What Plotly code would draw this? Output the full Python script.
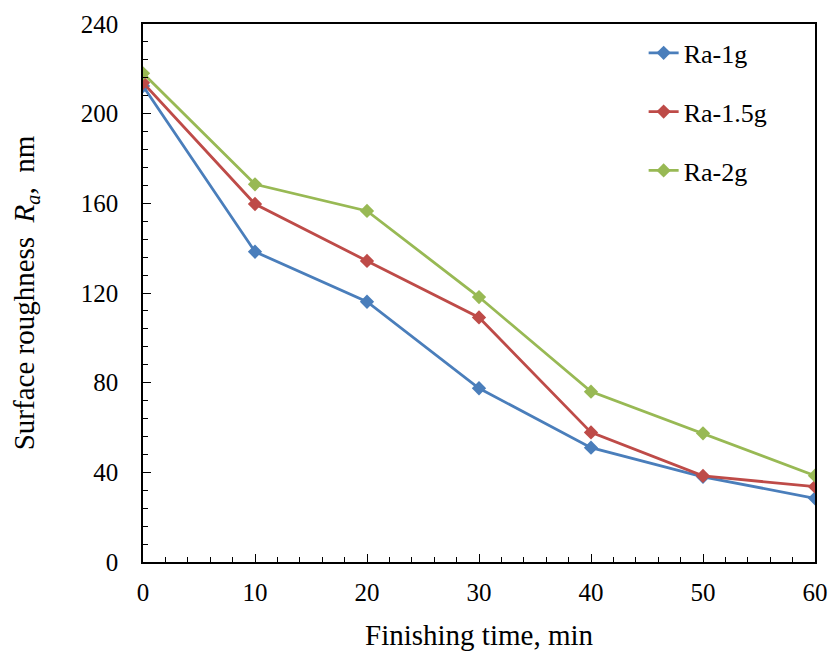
import plotly.graph_objects as go

# Finishing time (min) and surface roughness Ra (nm) for each abrasive load
time_min = [0, 10, 20, 30, 40, 50, 60]
ra_1g = [212.3, 138.4, 116.1, 77.5, 51.0, 38.0, 28.4]
ra_15g = [213.8, 159.7, 134.3, 109.1, 57.8, 38.4, 33.6]
ra_2g = [218.0, 168.5, 156.6, 118.2, 76.0, 57.4, 38.5]

series_names = ["Ra-1g", "Ra-1.5g", "Ra-2g"]
series_values = [ra_1g, ra_15g, ra_2g]
colors = ["#4a7ebb", "#be4b48", "#98b954"]

FONT = "Liberation Serif, Times New Roman, serif"

fig = go.Figure()
for i, (name, vals, col) in enumerate(zip(series_names, series_values, colors)):
    fig.add_trace(go.Scatter(
        x=time_min, y=vals, name=name, mode="lines+markers",
        line=dict(color=col, width=2.8),
        marker=dict(symbol="diamond", size=11, color=col),
        legendgroup=f"g{i}",
    ))

axis_common = dict(
    showline=True, linecolor="black", linewidth=1.5, mirror=True,
    ticks="inside", tickcolor="black", tickwidth=1.3, ticklen=8,
    showgrid=False, zeroline=False, automargin=False,
    tickfont=dict(family=FONT, size=25, color="black"),
)

fig.update_xaxes(
    range=[0, 60], tickmode="linear", tick0=0, dtick=10,
    minor=dict(ticks="inside", dtick=2, ticklen=5, tickcolor="black", tickwidth=1.2),
    title=dict(text="Finishing time, min", font=dict(family=FONT, size=29, color="black"), standoff=20),
    ticklabelstandoff=7,
    **axis_common,
)
fig.update_yaxes(
    range=[0, 240], tickmode="linear", tick0=0, dtick=40,
    minor=dict(ticks="inside", dtick=8, ticklen=5, tickcolor="black", tickwidth=1.2),
    title=dict(text="Surface roughness&nbsp;&nbsp;<i>R</i><sub><i>a</i></sub>,&nbsp;&nbsp;nm",
               font=dict(family=FONT, size=29, color="black"), standoff=38),
    ticklabelstandoff=18,
    **axis_common,
)

fig.update_layout(
    width=831, height=655,
    margin=dict(l=143, r=16, t=24, b=93),
    plot_bgcolor="white", paper_bgcolor="white",
    font=dict(family=FONT, color="black"),
    legend=dict(
        x=0.745, y=0.99, xanchor="left", yanchor="top",
        font=dict(family=FONT, size=26, color="black"),
        bgcolor="rgba(0,0,0,0)", tracegroupgap=22,
    ),
)

fig.write_html("out.html")
